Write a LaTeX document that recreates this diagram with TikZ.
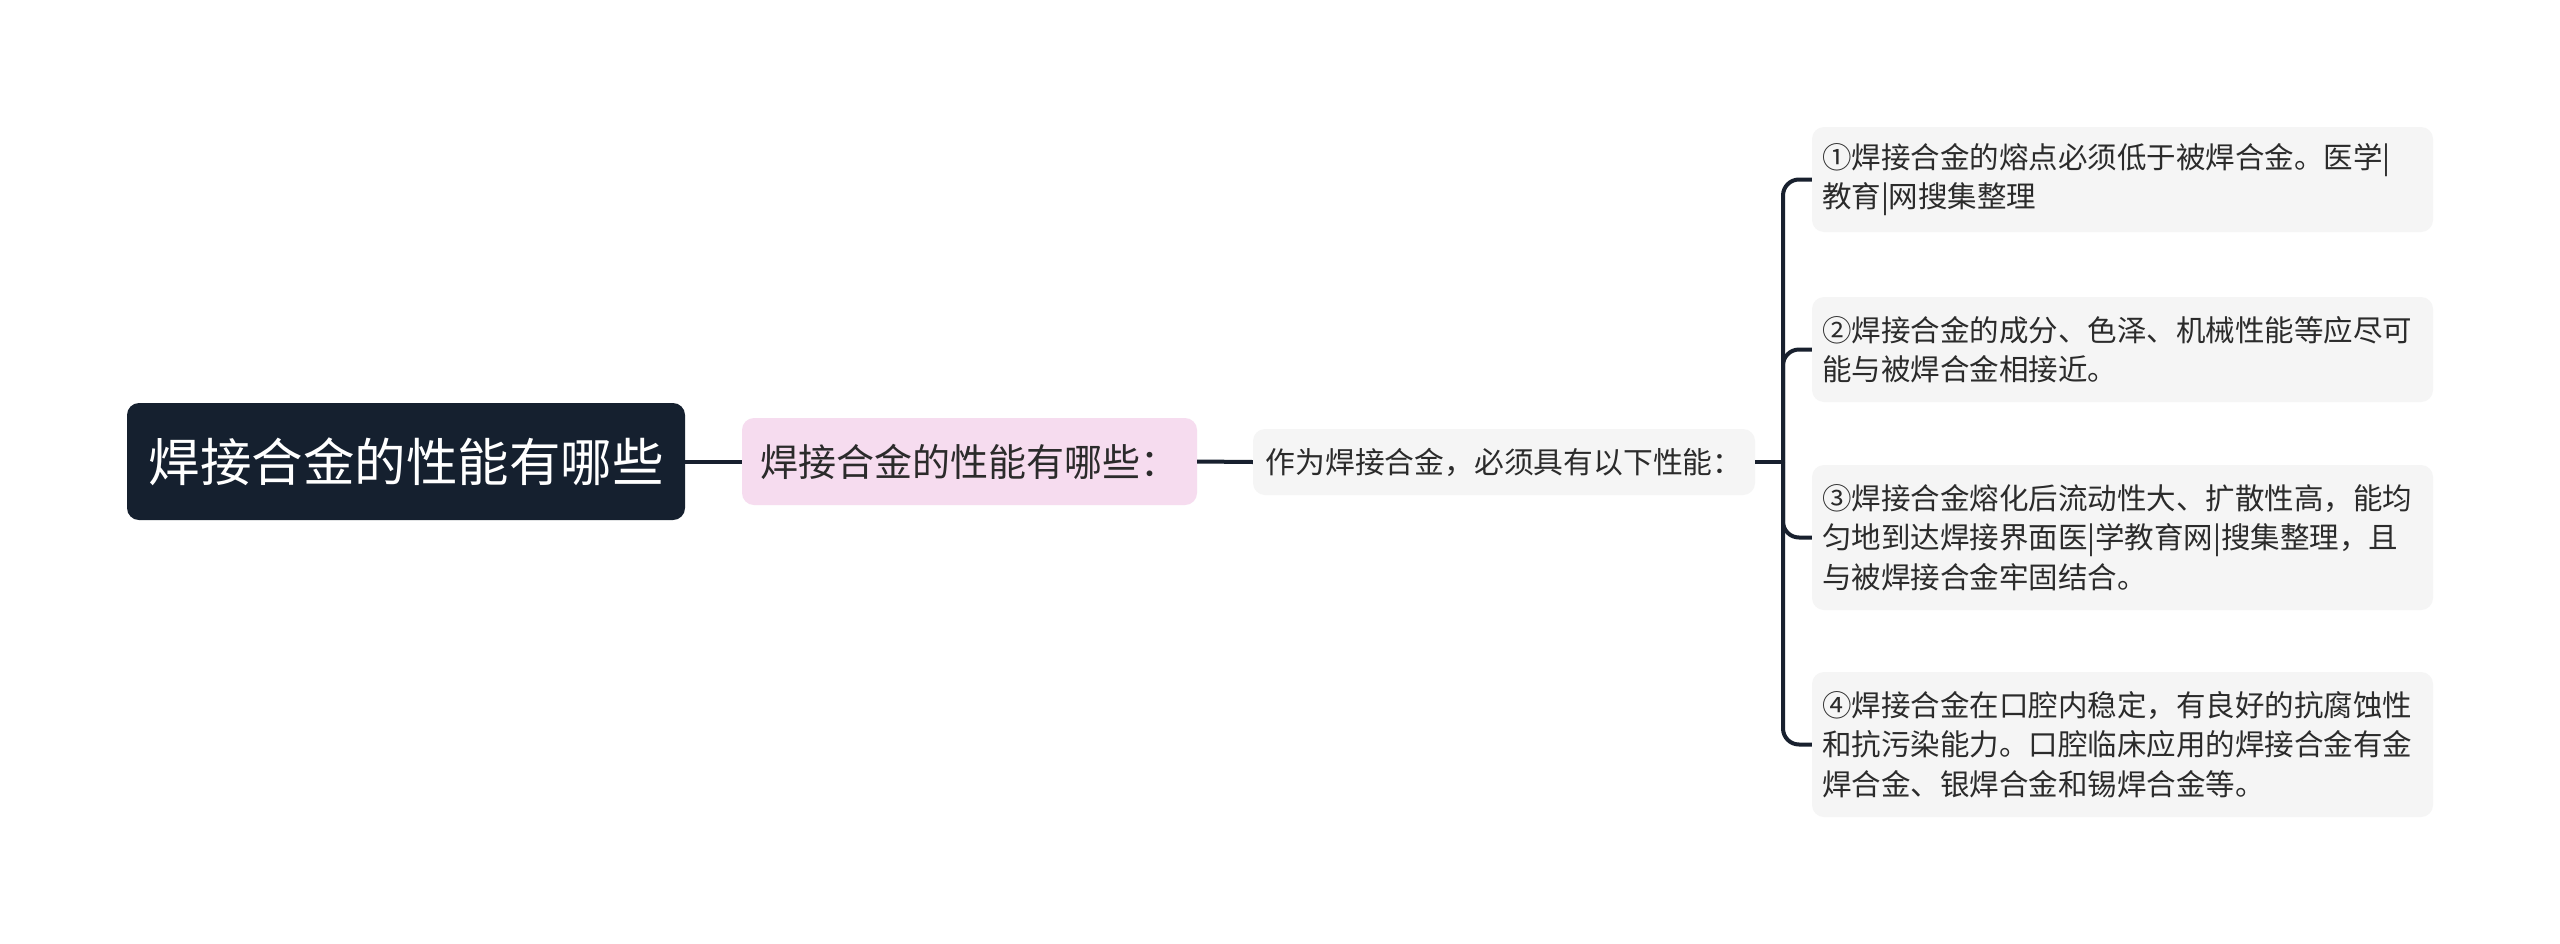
\documentclass[tikz,border=0pt]{standalone}
\usepackage{fontspec}
\setmainfont{Noto Sans CJK SC}
\definecolor{rootfill}{HTML}{15202F}
\definecolor{linecol}{HTML}{18202E}
\definecolor{pinkfill}{HTML}{F6DCEF}
\definecolor{greyfill}{HTML}{F5F5F5}
\definecolor{textcol}{HTML}{2B2B2B}
\begin{document}
\begin{tikzpicture}[x=1pt,y=-1pt,
  rootbox/.style={fill=rootfill, rounded corners=12pt, minimum width=558pt, minimum height=117pt, inner sep=0pt, text=white, font=\fontsize{51.5}{60}\selectfont},
  pinkbox/.style={fill=pinkfill, rounded corners=12pt, minimum width=455pt, minimum height=87pt, inner sep=0pt, text=textcol, font=\fontsize{38}{44}\selectfont},
  midbox/.style={fill=greyfill, rounded corners=12pt, minimum width=502pt, minimum height=66pt, inner sep=0pt, text=textcol, font=\fontsize{29.8}{36}\selectfont},
  leafbox/.style={fill=greyfill, rounded corners=12pt, text width=601pt, inner xsep=10pt, inner ysep=0pt, align=left, text=textcol, font=\fontsize{29.5}{39.5}\selectfont},
  conn/.style={draw=linecol, line width=4pt},
  bracket/.style={draw=linecol, line width=4pt, rounded corners=16pt}]
\useasboundingbox (0,0) rectangle (2560,943);
\fill[white] (0,0) rectangle (2560,943);

\node[rootbox] (root) at (406,461.5) {焊接合金的性能有哪些};
\node[pinkbox] (sub) at (969.5,461.5) {焊接合金的性能有哪些：};
\node[midbox] (mid) at (1504,462) {作为焊接合金，必须具有以下性能：};

\node[leafbox, minimum height=105pt] (l1) at (2122.5,179.5) {①焊接合金的熔点必须低于被焊合金。医学|\\教育|网搜集整理};
\node[leafbox, minimum height=105pt] (l2) at (2122.5,349.5) {②焊接合金的成分、色泽、机械性能等应尽可\\能与被焊合金相接近。};
\node[leafbox, minimum height=145pt] (l3) at (2122.5,537.5) {③焊接合金熔化后流动性大、扩散性高，能均\\匀地到达焊接界面医|学教育网|搜集整理，且\\与被焊接合金牢固结合。};
\node[leafbox, minimum height=145pt] (l4) at (2122.5,744.5) {④焊接合金在口腔内稳定，有良好的抗腐蚀性\\和抗污染能力。口腔临床应用的焊接合金有金\\焊合金、银焊合金和锡焊合金等。};

\draw[conn] (root.east) -- (sub.west);
\draw[conn] (sub.east) -- (mid.west);
\coordinate (hub) at (1783,462);
\draw[conn] (mid.east) -- (hub);
\foreach \leaf in {l1,l2,l3,l4} {
  \draw[bracket] (hub) |- (\leaf.west);
}
\end{tikzpicture}
\end{document}
